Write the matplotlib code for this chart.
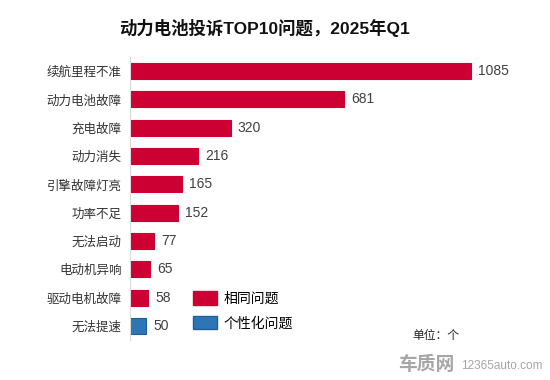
import matplotlib
matplotlib.use("Agg")
import matplotlib.pyplot as plt
from matplotlib.patches import Patch

plt.rcParams['font.family'] = ['Noto Sans CJK SC', 'DejaVu Sans']
latino = ['Liberation Sans', 'Noto Sans CJK SC']

# dati
categorie = ["续航里程不准", "动力电池故障", "充电故障", "动力消失", "引擎故障灯亮",
             "功率不足", "无法启动", "电动机异响", "驱动电机故障", "无法提速"]
valori = [1085, 681, 320, 216, 165, 152, 77, 65, 58, 50]
tipo = ["相同问题"] * 9 + ["个性化问题"]

colori = {"相同问题": "#CC0033", "个性化问题": "#2E75B6"}
bordi = {"相同问题": "#CC0033", "个性化问题": "#1F5F99"}

fig = plt.figure(figsize=(5.5, 3.8), dpi=100)
ax = fig.add_axes([130 / 550, 1 - 340 / 380, 400 / 550, 283 / 380])

y = range(len(categorie))
ax.barh(y, valori, height=0.565,
        color=[colori[t] for t in tipo],
        edgecolor=[bordi[t] for t in tipo], linewidth=0.8)

for i, v in enumerate(valori):
    ax.text(v + 23, i, str(v), va="center", ha="left", fontsize=10,
            color="#404040", family=latino)

ax.set_yticks(list(y))
ax.set_yticklabels(categorie, fontsize=9, color="#333333")
ax.set_ylim(9.5, -0.5)
ax.set_xlim(0, 1272)
ax.set_xticks([])
ax.tick_params(axis="y", length=0, pad=6)
for s in ["top", "right", "bottom"]:
    ax.spines[s].set_visible(False)
ax.spines["left"].set_color("#D9D9D9")
ax.spines["left"].set_linewidth(0.8)

# legenda
handles = [Patch(facecolor=colori[t], edgecolor=bordi[t], label=t) for t in ["相同问题", "个性化问题"]]
fig.legend(handles=handles, loc="center left", bbox_to_anchor=(193 / 550, 1 - 311 / 380),
           frameon=False, fontsize=10, handlelength=1.73, handleheight=1.08,
           handletextpad=0.45, labelspacing=0.75, borderaxespad=0, borderpad=0)

fig.text(264 / 550, 1 - 28 / 380, "动力电池投诉TOP10问题，2025年Q1", ha="center", va="center",
         fontsize=12.5, fontweight="bold", color="#111111", family=latino)
fig.text(436 / 550, 1 - 335 / 380, "单位：个", ha="center", va="center", fontsize=8.5, color="#222222")

# watermark
fig.text(426 / 550, 1 - 364 / 380, "车质网", ha="center", va="center", fontsize=13.5,
         fontweight="bold", color="#A6A6A6")
fig.text(502 / 550, 1 - 366 / 380, "12365auto.com", ha="center", va="center", fontsize=8.5,
         color="#A6A6A6", family=latino)

fig.savefig("out.png", dpi=100)
